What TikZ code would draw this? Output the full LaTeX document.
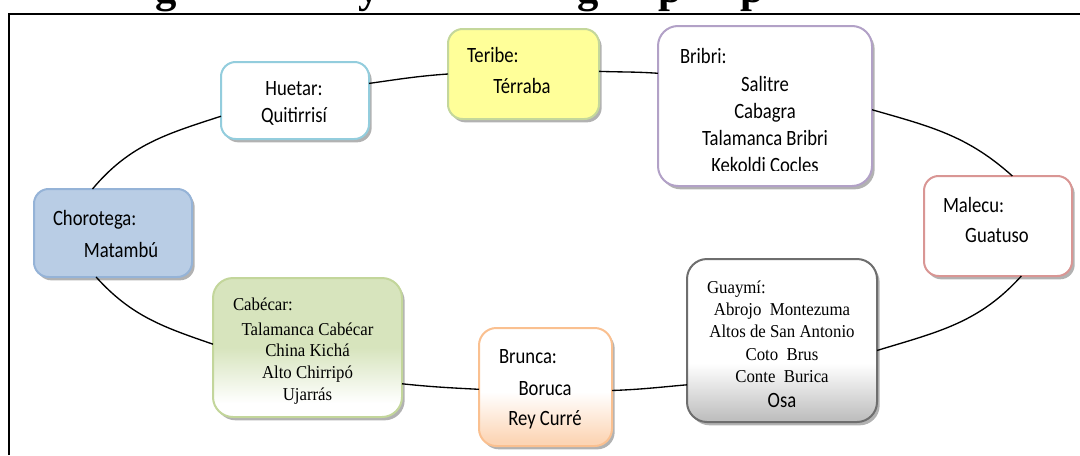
\documentclass[tikz,border=0pt]{standalone}
\usepackage{fontspec}
\setmainfont{Liberation Serif}
\newfontfamily\calibri{Carlito}
\usetikzlibrary{shadows}
\definecolor{huetarB}{RGB}{147,205,221}
\definecolor{teribeF}{RGB}{255,255,153}
\definecolor{teribeB}{RGB}{196,215,155}
\definecolor{bribriB}{RGB}{178,161,199}
\definecolor{malecuB}{RGB}{217,150,148}
\definecolor{choroF}{RGB}{185,205,229}
\definecolor{choroB}{RGB}{149,179,215}
\definecolor{cabF}{RGB}{215,228,189}
\definecolor{cabB}{RGB}{195,214,155}
\definecolor{brunF}{RGB}{252,213,181}
\definecolor{brunB}{RGB}{250,192,144}
\definecolor{guayF}{RGB}{191,191,191}
\definecolor{guayB}{RGB}{110,110,110}
\pgfdeclareverticalshading{cabsh}{100bp}{color(0bp)=(white); color(30bp)=(white); color(50bp)=(cabF); color(100bp)=(cabF)}
\pgfdeclareverticalshading{brunsh}{100bp}{color(0bp)=(brunF); color(27bp)=(brunF); color(48bp)=(white); color(100bp)=(white)}
\pgfdeclareverticalshading{guaysh}{100bp}{color(0bp)=(guayF); color(26bp)=(guayF); color(43bp)=(white); color(100bp)=(white)}
\newcommand\vsc[1]{\scalebox{1}[1.17]{#1}}
\newcommand\vst[1]{\scalebox{1}[1.08]{#1}}
\begin{document}
\begin{tikzpicture}[x=0.75pt,y=0.75pt,
  box/.style={draw, line width=1.5pt, rounded corners=11pt, outer sep=0pt, inner sep=0pt,
    drop shadow={shadow xshift=2pt, shadow yshift=-2.5pt, fill=black, opacity=0.3}},
  size/.style 2 args={minimum width=#1*0.75pt, minimum height=#2*0.75pt},
  cal/.style={inner sep=0pt, outer sep=0pt, font=\calibri\fontsize{14}{17}\selectfont},
  tnr/.style={inner sep=0pt, outer sep=0pt, font=\fontsize{12.6}{15}\selectfont},
  ttl/.style={inner sep=0pt, outer sep=0pt, font=\bfseries\fontsize{32}{36}\selectfont},
  conn/.style={draw=black, line width=1pt}]
\useasboundingbox (0,0) rectangle (1080,455);
\fill[white] (0,0) rectangle (1080,455);

% clipped title fragments
\begin{scope}
\clip (0,442.5) rectangle (1080,455);
\node[ttl, anchor=base west] (tg1) at (155,453) {g};
\node[ttl, anchor=base west] (tg2) at (358,453) {y};
\node[ttl, anchor=base west] (tg3) at (577,453) {g};
\node[ttl, anchor=base west] (tg4) at (658,453) {p};
\node[ttl, anchor=base west] (tg5) at (740,453) {p};
\end{scope}
\draw[line width=1.5pt] (9,0) -- (9,441.5) -- (1080,441.5);

% boxes
\node[box, size={148}{77}, draw=huetarB, fill=white] (huetar) at (295,354.5) {};
\node[box, size={151}{90}, draw=teribeB, fill=teribeF] (teribe) at (523.5,381) {};
\node[box, size={214}{160}, draw=bribriB, fill=white, rounded corners=15pt] (bribri) at (765,349) {};
\node[box, size={148}{100}, draw=malecuB, fill=white] (malecu) at (998,229) {};
\node[box, size={190}{163}, draw=guayB, shading=guaysh, rounded corners=15pt] (guaymi) at (782,114.5) {};
\node[box, size={133}{118}, draw=brunB, shading=brunsh, rounded corners=13pt] (brunca) at (545.5,68) {};
\node[box, size={189}{139}, draw=cabB, shading=cabsh, rounded corners=15pt] (cabecar) at (307.5,107.5) {};
\node[box, size={158}{88}, draw=choroB, fill=choroF] (choro) at (113,222) {};

% connectors (elliptic ring)
\draw[conn] (choro.115) to[out=50, in=198] (huetar.192);
\draw[conn] (huetar.13) to[out=8, in=184] (teribe.180);
\draw[conn] (teribe.2) to[out=-2, in=176] (bribri.163);
\draw[conn] (bribri.358) to[out=-16, in=138] (malecu.74);
\draw[conn] (malecu.295) to[out=228, in=17] (guaymi.354);
\draw[conn] (guaymi.205) to[out=185, in=2] (brunca.357);
\draw[conn] (brunca.182) to[out=177, in=354] (cabecar.339);
\draw[conn] (cabecar.178) to[out=161, in=312] (choro.249);

% texts
\node[cal, anchor=base] (h1) at (294,359.3) {\vsc{Huetar:}};
\node[cal, anchor=base] (h2) at (294,333) {\vsc{Quitirrisí}};

\node[cal, anchor=base west] (t1) at (467,393) {\vsc{Teribe:}};
\node[cal, anchor=base] (t2) at (522,362) {\vsc{Térraba}};

\node[cal, anchor=base west] (b1) at (680,392) {\vsc{Bribri:}};
\node[cal, anchor=base] (b2) at (765,364) {\vsc{Salitre}};
\node[cal, anchor=base] (b3) at (765,337) {\vsc{Cabagra}};
\node[cal, anchor=base] (b4) at (765,310) {\vsc{Talamanca Bribri}};
\begin{scope}
\clip (660,285) rectangle (870,300);
\node[cal, anchor=base] (b5) at (765,283) {\vsc{Kekoldi Cocles}};
\end{scope}

\node[cal, anchor=base west] (m1) at (943,243) {\vsc{Malecu:}};
\node[cal, anchor=base] (m2) at (997,213) {\vsc{Guatuso}};

\node[cal, anchor=base west] (c1) at (53,230) {\vsc{Chorotega:}};
\node[cal, anchor=base] (c2) at (121,198) {\vsc{Matambú}};

\node[tnr, anchor=base west] (k1) at (233,145) {\vst{Cabécar:}};
\node[tnr, anchor=base] (k2) at (307.5,120) {\vst{Talamanca Cabécar}};
\node[tnr, anchor=base] (k3) at (307.5,99) {\vst{China Kichá}};
\node[tnr, anchor=base] (k4) at (307.5,77) {\vst{Alto Chirripó}};
\node[tnr, anchor=base] (k5) at (307.5,55) {\vst{Ujarrás}};

\node[cal, anchor=base west] (r1) at (499,92) {\vsc{Brunca:}};
\node[cal, anchor=base] (r2) at (545,60) {\vsc{Boruca}};
\node[cal, anchor=base] (r3) at (545,30) {\vsc{Rey Curré}};

\node[tnr, anchor=base west] (g1) at (707,162) {\vst{Guaymí:}};
\node[tnr, anchor=base] (g2) at (782,140) {\vst{Abrojo\ \ Montezuma}};
\node[tnr, anchor=base] (g3) at (782,118) {\vst{Altos de San Antonio}};
\node[tnr, anchor=base] (g4) at (782,95) {\vst{Coto\ \ Brus}};
\node[tnr, anchor=base] (g5) at (782,73) {\vst{Conte\ \ Burica}};
\node[cal, anchor=base] (g6) at (782,48) {\vsc{Osa}};
\end{tikzpicture}
\end{document}
